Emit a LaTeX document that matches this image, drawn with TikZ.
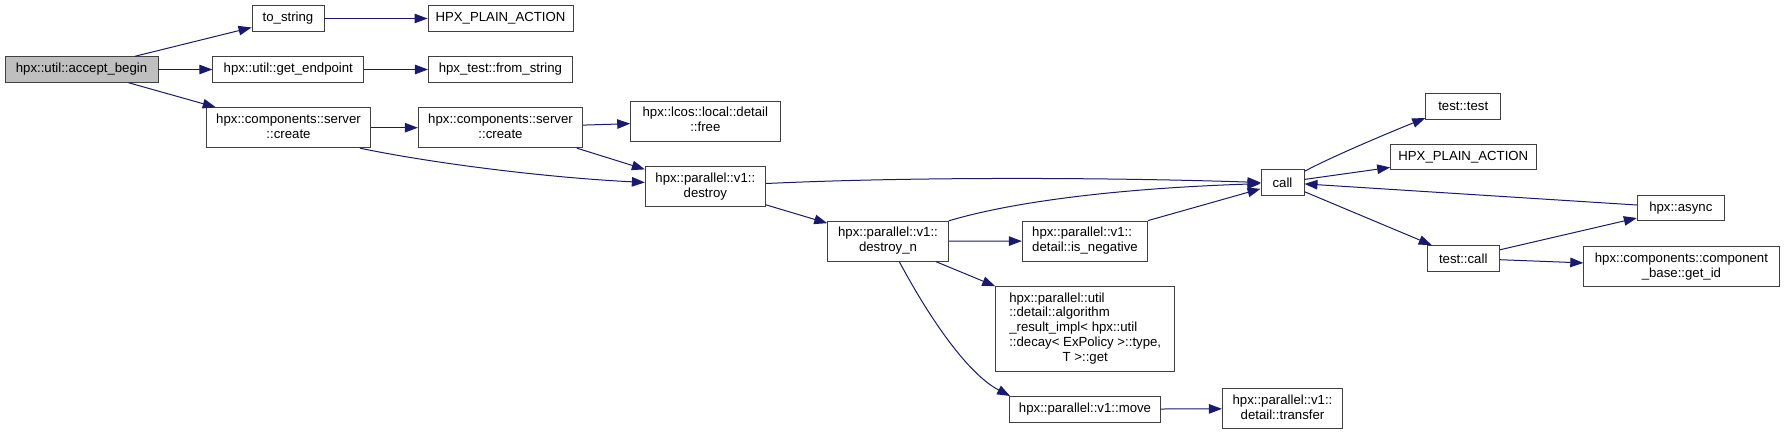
\documentclass[tikz,border=0pt]{standalone}
\usepackage{fontspec}
\setmainfont{Liberation Sans}
\usetikzlibrary{arrows.meta}
\definecolor{midnight}{HTML}{191970}
% left-aligned lines, the last one centred
\newcommand{\fnlines}[2]{\begin{tabular}{@{}l@{}}#1\\\multicolumn{1}{@{}c@{}}{#2}\end{tabular}}
\tikzset{
  fn/.style={draw=black!75, line width=0.9pt, fill=white, inner sep=0pt, minimum height=25.5pt},
  fntwo/.style={fn, minimum height=40pt},
  root/.style={fn, fill=black!25},
  calls/.style={->, midnight, line width=1pt},
}

\begin{document}
\begin{tikzpicture}[font=\fontsize{13.2}{14.8}\selectfont, >={Triangle[length=13pt,width=9.5pt]}, x=1pt, y=-1pt]
  \useasboundingbox (0,0) rectangle (1784,435);
  \node[root, minimum width=153pt] (accept) at (81.5,69.5) {hpx::util::accept\_begin};
  \node[fn, minimum width=72pt] (tostring) at (288,18.5) {to\_string};
  \node[fn, minimum width=145pt] (plainA) at (500.5,18.5) {HPX\_PLAIN\_ACTION};
  \node[fn, minimum width=151pt] (getend) at (288.3,69.5) {hpx::util::get\_endpoint};
  \node[fn, minimum width=144pt] (fromstr) at (500.4,69.5) {hpx\_test::from\_string};
  \node[fntwo, minimum width=163.6pt] (createA) at (288.5,127.7) {\fnlines{hpx::components::server}{::create}};
  \node[fntwo, minimum width=164.4pt] (createB) at (500.5,127.7) {\fnlines{hpx::components::server}{::create}};
  \node[fntwo, minimum width=149.3pt] (lcosfree) at (705.3,121.3) {\fnlines{hpx::lcos::local::detail}{::free}};
  \node[fntwo, minimum width=120pt] (destroy) at (705.3,186.7) {\fnlines{hpx::parallel::v1::}{destroy}};
  \node[fntwo, minimum width=120.6pt] (destroyn) at (888,241.3) {\fnlines{hpx::parallel::v1::}{destroy\_n}};
  \node[fntwo, minimum width=125.4pt] (isneg) at (1085,241) {\fnlines{hpx::parallel::v1::}{detail::is\_negative}};
  \node[fn, minimum width=179pt, minimum height=84.3pt] (algo) at (1085.2,328.8)
    {\fnlines{hpx::parallel::util\\::detail::algorithm\\\_result\_impl< hpx::util\\::decay< ExPolicy >::type,}{T >::get}};
  \node[fn, minimum width=150.6pt] (move) at (1085,409.2) {hpx::parallel::v1::move};
  \node[fntwo, minimum width=120.3pt] (transfer) at (1282.5,408.7) {\fnlines{hpx::parallel::v1::}{detail::transfer}};
  \node[fn, minimum width=43pt] (call) at (1282.5,182.5) {call};
  \node[fn, minimum width=75pt] (testtest) at (1463.2,106.5) {test::test};
  \node[fn, minimum width=145.3pt] (plainB) at (1463.3,157.2) {HPX\_PLAIN\_ACTION};
  \node[fn, minimum width=87pt] (async) at (1680.8,207.8) {hpx::async};
  \node[fn, minimum width=72.3pt] (testcall) at (1463.2,258.3) {test::call};
  \node[fntwo, minimum width=195.3pt] (getid) at (1681.4,266.7) {\fnlines{hpx::components::component}{\_base::get\_id}};

  \draw[calls] (accept) -- (tostring);
  \draw[calls] (accept) -- (getend);
  \draw[calls] (accept) -- (createA);
  \draw[calls] (tostring) -- (plainA);
  \draw[calls] (getend) -- (fromstr);
  \draw[calls] (createA) -- (createB);
  \draw[calls] (createA.-16) .. controls +(72,15) and +(-100,-5) .. (destroy.176);
  \draw[calls] (createB) -- (lcosfree);
  \draw[calls] (createB.-15.5) -- (destroy.164);
  \draw[calls] (destroy.3) .. controls +(150,-7) and +(-150,-5) .. (call.west);
  \draw[calls] (destroy) -- (destroyn);
  \draw[calls] (destroyn.north east) .. controls +(60,-18) and +(-150,5) .. (call.183);
  \draw[calls] (destroyn) -- (isneg);
  \draw[calls] (destroyn.-23) -- (algo.north west);
  \draw[calls] (destroyn.-61) .. controls +(31,58) and +(-42,-22) .. (move.170);
  \draw[calls] (isneg.north east) -- (call.196);
  \draw[calls] (move) -- (transfer);
  \draw[calls] (call.27) .. controls +(30,-16) and +(-30,12) .. (testtest.197);
  \draw[calls] (call) -- (plainB);
  \draw[calls] (call) -- (testcall);
  \draw[calls] (async) -- (call);
  \draw[calls] (testcall) -- (async);
  \draw[calls] (testcall) -- (getid);
\end{tikzpicture}
\end{document}
